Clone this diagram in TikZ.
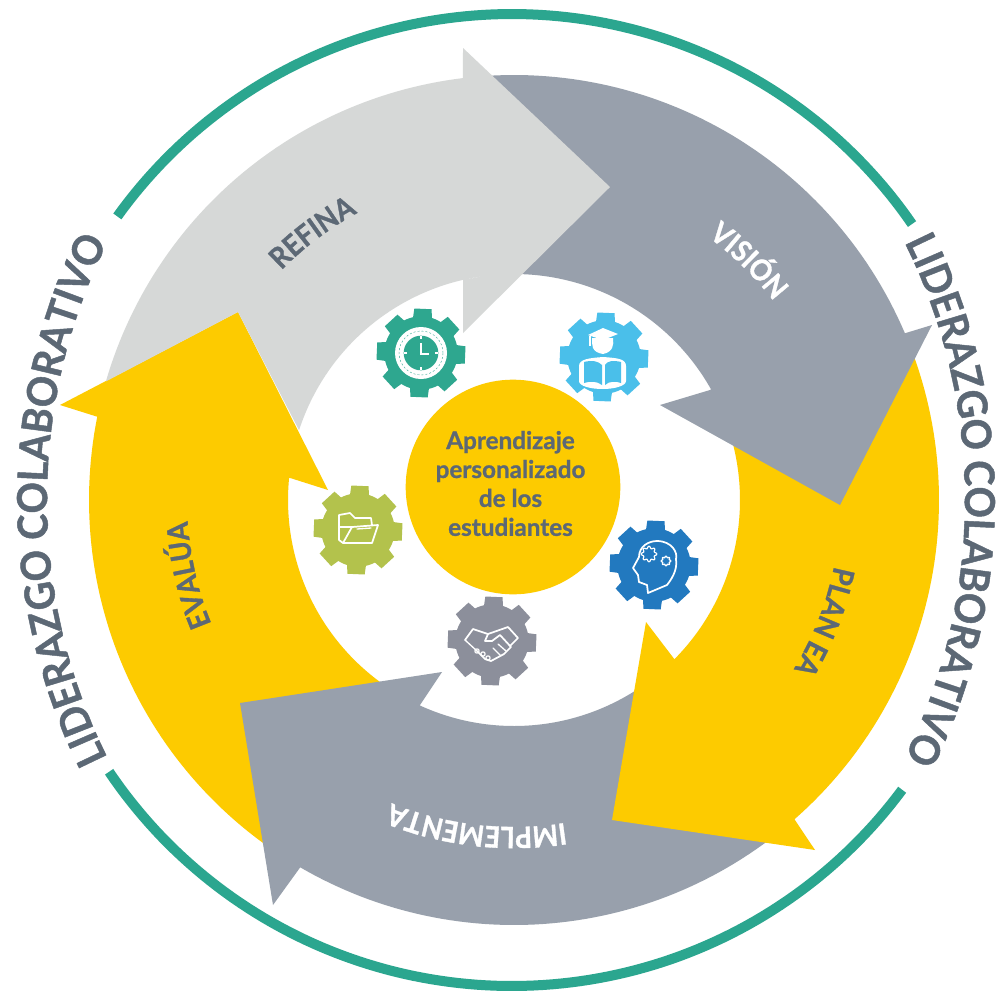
\documentclass[tikz,border=0pt]{standalone}
\usepackage{fontspec}
\setmainfont{Lato}
\newfontfamily\ringfont{Lato}[BoldFeatures={FakeBold=1.1,FakeStretch=0.94}]
\newfontfamily\labfont{Lato}[BoldFeatures={FakeBold=1.1,FakeStretch=0.92}]
\newfontfamily\corefont{Lato}[BoldFeatures={FakeBold=1.0}]
\usetikzlibrary{decorations.text}
\definecolor{ringteal}{HTML}{2BA68F}
\definecolor{amber}{HTML}{FDCB00}
\definecolor{slatearrow}{HTML}{98A0AC}
\definecolor{palearrow}{HTML}{D6D8D7}
\definecolor{inktext}{HTML}{5C6875}
\definecolor{gearteal}{HTML}{2EA78F}
\definecolor{gearsky}{HTML}{4ABFEA}
\definecolor{gearolive}{HTML}{B3C24C}
\definecolor{gearslate}{HTML}{8C8F9B}
\definecolor{gearblue}{HTML}{2279BF}
\newcommand\ringtext[3]{\path[decorate,decoration={text along path,text align=center,text={|\fontsize{31}{36}\ringfont\bfseries\color{inktext}|LIDERAZGO COLABORATIVO}}] plot[domain=#1:#2,samples=90,variable=\t] ({#3+580*cos(\t)},{500+580*sin(\t)});}
% arc label: colour, mid angle, text
\newcommand\arclabel[3]{\path[decorate,decoration={text along path,text align=center,text={|\fontsize{22}{26}\labfont\bfseries\color{#1}|#3}}] plot[domain=#2-35:#2+35,samples=50,variable=\t] ({514+327*cos(\t)},{500+327*sin(\t)});}
\newcommand\gearbody[1]{%
  \fill[#1] (0,0) circle[radius=27.5pt];
  \foreach \k in {0,45,...,315}{
    \fill[#1] ({35*cos(\k+2.5-16)},{35*sin(\k+2.5-16)}) -- ({45*cos(\k+2.5-11)},{45*sin(\k+2.5-11)}) -- ({45*cos(\k+2.5+11)},{45*sin(\k+2.5+11)}) -- ({35*cos(\k+2.5+16)},{35*sin(\k+2.5+16)}) -- cycle;
  }}
\tikzset{
  icon/.style={draw=white,line width=1.3pt,line join=round,line cap=round},
  rp/.style={samples=60,variable=\t},
}
\begin{document}
\begin{tikzpicture}[x=0.75pt,y=-0.75pt]
\useasboundingbox (0,0) rectangle (1002,992);
\fill[white] (0,0) rectangle (1002,992);
% outer ring
\draw[ringteal,line width=7.5pt] plot[domain=215.7:325.4,samples=100,variable=\t] ({512+486*cos(\t)},{500+486*sin(\t)});
\draw[ringteal,line width=7.5pt] plot[domain=36.6:146,samples=100,variable=\t] ({512+486*cos(\t)},{500+486*sin(\t)});
\ringtext{150}{210}{627}
\ringtext{-30}{30}{385}
% arrows
\fill[amber] plot[rp,domain=123:191.3] ({514+425*cos(\t)},{500+425*sin(\t)}) -- (60,405) -- (238,312) -- (328,490) -- (288,477.3) -- plot[rp,domain=185.7:122] ({514+226*cos(\t)},{500+226*sin(\t)}) -- cycle;
\fill[slatearrow] plot[rp,domain=53:120.2] ({514+425*cos(\t)},{500+425*sin(\t)}) -- (273,905) -- (240,703) -- (442,672) -- (418,708) -- plot[rp,domain=114.8:56] ({514+226*cos(\t)},{500+226*sin(\t)}) -- cycle;
\fill[amber] plot[rp,domain=-21:48.7] ({514+425*cos(\t)},{500+425*sin(\t)}) -- (815,850) -- (612,820) -- (646,622) -- (675,660) -- plot[rp,domain=44.8:-16] ({514+226*cos(\t)},{500+226*sin(\t)}) -- cycle;
\fill[slatearrow] plot[rp,domain=266:336.9] ({514+425*cos(\t)},{500+425*sin(\t)}) -- (932,325) -- (840,505) -- (660,405) -- (710,390) -- plot[rp,domain=330.7:270] ({514+226*cos(\t)},{500+226*sin(\t)}) -- cycle;
\fill[palearrow] plot[rp,domain=196.2:263.1] ({514+425*cos(\t)},{500+425*sin(\t)}) -- (463,48) -- (610,187) -- (463,333) -- (463,280) -- plot[rp,domain=263:198] ({514+226*cos(\t)},{500+226*sin(\t)}) -- (238,312) -- cycle;
% arrow labels
\arclabel{inktext}{233}{REFINA}
\arclabel{white}{-45.5}{VISIÓN}
\arclabel{inktext}{21.4}{PLAN EA}
\arclabel{white}{96.5}{IMPLEMENTA}
\arclabel{inktext}{167}{EVALÚA}
% centre
\node[circle,fill=amber,minimum size=161pt,inner sep=0pt] (core) at (513,487) {};
\node[text=inktext,align=center,inner sep=0pt,font=\fontsize{18.2}{21.7}\corefont\bfseries] (coretext) at (510.5,483.5) {Aprendizaje\\personalizado\\de los\\estudiantes};
% clock gear
\begin{scope}[shift={(421,353)}]
  \gearbody{gearteal}
  \fill[white] (0,0) circle[radius=19.5pt];
  \fill[gearteal] (0,0) circle[radius=13pt];
  \draw[gearteal,line width=0.3pt,dash pattern=on 1.5pt off 1.5pt] (0,0) circle[radius=16.5pt];
  \draw[white,line width=1.5pt] (0,-17) -- (0,-14) (0,17) -- (0,14) (-17,0) -- (-14,0) (17,0) -- (14,0);
  \draw[white,line width=1.5pt] (0,-10) -- (0,1) -- (8,1);
\end{scope}
% student gear
\begin{scope}[shift={(604,357)}]
  \gearbody{gearsky}
  \fill[white] (-16,-22) -- (-1,-29) -- (14,-23) -- (-1,-17) -- cycle;
  \fill[white] (-12,-19) .. controls (-12,-12) and (-13,-5) .. (-1,-3) .. controls (9,-5) and (10,-12) .. (9,-19) -- cycle;
  \draw[white,line width=1.2pt] (-14,-21) -- (-14,-11);
  \fill[white] (-25,9) .. controls (-25,2) and (-14,1) .. (-1,0) .. controls (14,1) and (22,2) .. (22,9) -- (22,24) .. controls (22,29) and (10,32) .. (-1,32) .. controls (-14,32) and (-25,29) .. (-25,24) -- cycle;
  \fill[gearsky] (-20,5) .. controls (-12,3) and (-6,4) .. (-2,8) -- (-2,28) .. controls (-7,24) and (-14,24) .. (-20,26) -- cycle;
  \fill[gearsky] (17,5) .. controls (9,3) and (3,4) .. (1,8) -- (1,28) .. controls (5,24) and (12,24) .. (17,26) -- cycle;
\end{scope}
% brain gear
\begin{scope}[shift={(654,565)}]
  \gearbody{gearblue}
  \draw[icon] (-6,28) -- (-7,20) -- (-15,17) -- (-16,10) -- (-21,3) -- (-15,-8) .. controls (-15,-19) and (-5,-24) .. (3,-24) .. controls (18,-24) and (24,-12) .. (22,-6) .. controls (24,6) and (16,16) .. (13,20) -- cycle;
  \draw[icon,line width=0.9pt] plot[domain=0:360,samples=65,variable=\t] ({-5+(6.7+1.1*cos(8*\t))*cos(\t)},{-11+(6.7+1.1*cos(8*\t))*sin(\t)}) -- cycle;
  \draw[icon,line width=0.9pt] plot[domain=0:360,samples=65,variable=\t] ({12+(4.2+0.7*cos(8*\t))*cos(\t)},{-4+(4.2+0.7*cos(8*\t))*sin(\t)}) -- cycle;
\end{scope}
% handshake gear
\begin{scope}[shift={(492,641)}]
  \gearbody{gearslate}
  \draw[icon] (-27,-1) -- (-19,-12) -- (-4,-7) -- (16,-14) -- (26,-3) -- (18,5);
  \draw[icon] (-4,-7) -- (-7,0) -- (0,0) -- (8,-6) -- (19,6) -- (12,13) -- (-1,20) -- (-7,18) -- (-15,10);
  \draw[icon,line width=1pt] (-15,10) -- (-27,-1);
  \draw[icon,line width=1pt] (6,3) -- (14,10) (1,7) -- (9,15);
  \draw[icon,line width=0.9pt] (-15,10) circle[radius=1.6pt] (-9,13) circle[radius=1.6pt] (-4,17) circle[radius=1.6pt];
\end{scope}
% folder gear
\begin{scope}[shift={(358,530)}]
  \gearbody{gearolive}
  \draw[icon] (-6,-3) -- (-19,-3) (-15,13) -- (-19,10) -- (-19,-15) -- (-8,-17) -- (-3,-12) -- (13,-12) -- (14,-5);
  \draw[icon] (-6,-3) -- (20,-5) -- (14,13) -- (-15,13) -- cycle;
  \draw[icon,line width=1pt] (-1,-1) -- (13,-2);
\end{scope}
\end{tikzpicture}
\end{document}
